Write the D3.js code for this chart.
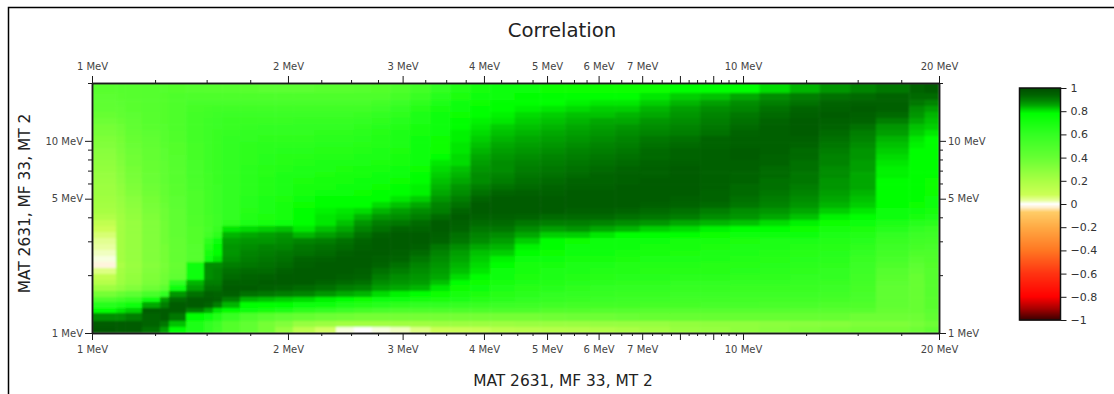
<!DOCTYPE html>
<html><head><meta charset="utf-8">
<script src="https://cdn.jsdelivr.net/npm/d3@7"></script>
<style>html,body{margin:0;padding:0;background:#fff}svg{display:block}text{font-family:"DejaVu Sans",sans-serif}</style>
</head><body><div id="c"></div>
<script>
const xEdges=[1,1.089,1.124,1.193,1.272,1.313,1.395,1.486,1.534,1.584,1.688,1.799,1.911,2.036,2.2,2.37,2.525,2.69,2.87,3.08,3.31,3.55,3.81,4.09,4.46,4.88,5.33,5.82,6.36,6.94,7.72,8.59,9.55,10.6,11.8,13.1,14.6,16,18,19,20];
const yEdges=[20,17.74,16.3,15.2,14.13,13.15,12.23,11.39,10.6,9.86,9.18,8.54,7.95,7.4,6.88,6.41,5.96,5.55,5.165,4.805,4.472,4.162,3.873,3.604,3.354,3.122,2.905,2.703,2.515,2.341,2.179,2.028,1.887,1.777,1.654,1.539,1.45,1.349,1.271,1.155,1.075,1];
// correlation in percent, rows from the highest energy down, columns from the lowest energy up
const correlation=[
[45,46,46,47,47,48,47,46,46,46,45,44,44,44,45,45,46,48,50,54,60,66,70,73,74,75,75,75,75,75,76,77,78,81,84,87,89,91,94,96],
[44,45,46,47,48,50,50,50,50,50,50,50,50,50,50,50,50,50,53,58,64,69,72,74,76,76,77,77,78,80,82,83,85,88,90,92,93,94,93,93],
[43,44,45,47,48,50,52,52,52,52,52,52,52,52,52,52,52,54,57,62,68,72,75,76,78,78,79,80,80,82,84,86,88,90,92,94,95,95,91,89],
[42,43,45,47,48,50,53,54,55,55,55,55,55,55,55,55,55,57,60,65,70,74,76,77,79,80,81,82,82,84,86,88,89,92,94,95,96,95,88,86],
[40,42,44,46,48,50,54,55,56,57,57,57,57,57,57,57,58,60,62,67,72,75,78,79,81,82,83,83,84,85,87,89,91,93,95,96,95,93,87,84],
[38,40,43,46,48,50,54,56,57,58,58,58,58,59,59,59,60,62,64,68,73,76,79,80,82,83,84,85,85,87,88,90,92,94,96,95,94,90,85,83],
[36,38,42,45,47,50,54,56,57,58,59,60,60,60,60,60,62,64,66,70,74,78,80,82,83,84,85,86,87,88,89,91,93,95,96,94,92,87,83,82],
[35,37,41,44,46,49,54,56,58,59,60,61,61,61,62,62,63,65,67,71,74,79,81,83,84,85,86,87,88,89,90,92,94,95,96,93,90,86,82,80],
[33,36,40,43,46,49,54,56,58,60,61,62,62,62,63,63,64,66,68,72,75,79,82,84,85,86,87,88,89,91,92,94,95,95,95,92,89,84,80,78],
[32,35,39,42,45,48,53,56,58,60,62,63,63,63,64,64,65,66,68,72,75,80,83,85,86,87,88,89,90,92,93,94,95,95,94,91,88,83,79,78],
[30,34,38,41,44,48,53,56,58,60,62,63,64,64,65,65,66,67,69,73,75,80,84,86,87,88,89,90,91,93,94,95,96,95,93,90,87,82,78,77],
[29,33,37,41,44,47,53,56,58,60,62,64,65,65,66,66,67,68,70,73,76,81,85,87,88,89,90,91,92,93,94,95,96,94,93,89,87,81,78,77],
[28,32,37,40,43,47,52,56,58,60,62,64,65,66,67,67,68,69,71,74,80,81,86,88,89,90,91,92,93,94,95,95,95,94,92,89,86,80,78,76],
[27,31,36,40,43,46,52,56,58,60,63,65,66,67,68,69,70,71,72,75,81,83,87,88,90,91,92,93,94,95,96,95,95,93,92,88,86,79,77,76],
[26,30,35,39,42,46,52,55,58,60,63,65,67,68,69,70,71,72,73,77,82,84,88,89,91,92,93,94,95,95,96,95,94,93,91,88,85,79,77,76],
[25,29,34,39,42,46,51,55,58,60,63,66,67,69,70,71,72,73,75,78,83,85,88,90,92,93,94,94,95,96,96,95,94,92,91,87,85,78,77,75],
[24,28,33,38,41,45,51,55,57,60,63,66,68,70,71,72,74,75,76,79,84,87,90,92,93,94,95,95,96,96,96,95,93,92,90,87,85,78,77,75],
[24,27,32,37,41,45,50,54,57,60,63,66,68,71,72,73,75,76,78,79,85,88,92,94,95,95,96,96,96,96,96,94,93,91,89,86,84,78,76,75],
[23,26,30,36,40,44,50,54,57,60,64,67,69,73,76,76,76,78,80,82,87,90,94,96,96,96,96,96,96,96,95,94,92,90,88,85,83,77,76,74],
[22,25,29,35,39,44,50,54,57,60,64,67,70,75,78,78,78,81,83,85,89,92,96,96,96,96,96,96,96,95,94,93,91,89,87,84,82,76,75,73],
[21,24,28,34,38,43,50,54,57,60,65,68,70,76,79,80,81,84,86,88,90,94,96,96,96,96,95,95,94,93,92,90,88,87,85,82,80,74,73,71],
[18,23,27,33,38,43,49,53,56,60,66,69,71,77,80,81,84,87,88,90,93,96,95,95,94,93,93,93,92,91,90,88,87,85,83,79,77,72,70,68],
[12,22,26,32,37,42,49,53,56,62,68,71,73,78,80,83,87,90,91,93,96,95,93,93,91,90,90,89,88,87,85,84,83,81,79,75,73,68,64,63],
[8,22,26,32,37,42,48,52,58,80,81,82,83,80,83,85,89,92,94,94,96,94,91,91,88,86,87,85,84,82,81,79,78,77,75,71,69,64,60,58],
[6,22,26,32,37,42,48,54,62,84,85,86,87,84,86,88,92,95,96,96,95,92,89,88,85,82,82,80,78,77,76,75,74,73,72,68,66,60,57,56],
[4,22,26,32,37,41,48,62,72,86,87,87,88,89,90,92,94,96,96,96,94,91,88,86,82,78,75,74,73,72,71,70,69,68,67,66,64,58,55,54],
[3,22,26,32,36,41,47,66,76,87,88,89,89,91,92,93,95,96,96,95,91,88,85,84,79,76,74,73,72,71,70,69,68,67,66,65,62,56,53,52],
[2,22,26,32,36,41,47,70,78,87,89,90,91,92,93,95,96,96,95,93,89,86,83,82,76,75,73,72,71,70,69,68,67,66,65,64,60,54,50,50],
[1,22,26,32,36,41,47,73,80,88,90,91,92,94,95,96,96,95,94,91,88,85,82,79,74,72,71,70,69,68,67,67,66,65,64,63,58,52,47,49],
[-2,20,25,31,35,40,72,88,88,90,91,92,93,95,96,96,96,94,92,89,87,84,81,76,71,70,68,67,66,66,66,65,65,64,63,62,57,50,44,48],
[5,22,26,32,36,41,72,88,89,92,93,93,95,96,96,96,95,92,90,88,86,83,80,74,70,68,67,66,66,65,65,65,64,63,62,61,56,47,42,47],
[12,23,27,33,37,42,74,88,89,93,94,95,96,96,96,95,94,90,88,87,85,81,78,72,69,67,66,65,64,64,63,63,62,62,61,60,55,45,40,47],
[16,24,28,34,38,60,84,90,90,95,95,96,96,96,94,93,92,88,87,86,83,78,75,70,67,66,64,63,62,62,61,61,60,60,59,58,54,44,40,46],
[24,28,32,38,44,72,86,92,92,96,96,95,94,93,92,90,89,86,85,84,80,75,72,67,65,64,62,61,60,60,59,59,58,58,58,57,53,43,40,46],
[36,40,44,52,60,87,92,95,94,95,92,91,90,89,87,85,84,81,79,78,75,71,69,65,63,61,60,59,58,58,57,57,56,56,56,55,52,43,40,46],
[50,54,58,72,86,93,96,96,95,90,84,83,82,81,79,77,75,73,72,71,69,67,65,63,61,59,58,57,56,56,55,55,54,54,54,53,51,43,40,45],
[64,68,72,85,90,96,96,94,90,84,78,77,76,74,72,68,66,64,62,60,60,59,58,57,56,55,54,54,54,53,53,52,52,51,51,50,49,42,40,45],
[78,80,82,96,96,96,90,85,80,77,72,70,67,62,59,56,53,51,50,50,50,50,50,50,50,48,48,47,47,46,46,46,46,46,45,45,45,40,40,44],
[88,88,90,94,96,91,78,72,66,58,50,45,42,40,38,37,36,36,36,36,36,36,36,36,36,37,38,38,39,40,40,40,40,40,40,40,38,38,38,42],
[96,96,96,94,91,83,68,60,56,48,42,36,32,26,24,22,22,22,23,23,24,24,24,24,25,25,25,26,26,26,27,28,28,29,30,31,33,33,35,38],
[97,96,96,92,86,76,68,60,55,48,42,36,26,14,7,1,0,1,2,5,8,9,10,14,15,16,17,18,20,22,25,26,28,30,32,34,36,36,38,42]
];
const xLabelled=[1,2,3,4,5,6,7,10,20];
const xLong=[1,2,3,4,5,6,7,8,9,10,20];
const xShort=[1.25,1.5,1.75,2.25,2.5,2.75,3.25,3.5,3.75,4.25,4.5,4.75,5.25,5.5,5.75,6.25,6.5,6.75,7.25,7.5,7.75,8.25,8.5,8.75,9.25,9.5,9.75,12.5,15,17.5];
const yLabelled=[1,5,10];
const yShort=[2,3,4,6,7,8,9,20];
const barTicks=[1,0.8,0.6,0.4,0.2,0,-0.2,-0.4,-0.6,-0.8,-1];
const stopValues=[-1,-0.9,-0.8,-0.6,-0.4,-0.2,-0.07,-0.03,0,0.03,0.08,0.2,0.4,0.6,0.78,0.81,0.85,0.89,0.94,1];
const stopColors=["#3a0000","#a80000","#ff0000","#ff3311","#ff7722","#ffaa44","#ffcc66","#ffeecc","#ffffff","#e8ffa0","#ccff55","#aaff44","#66ff33","#33ff22","#00ff00","#00dc00","#00a800","#008400","#006400","#004c00"];

const W=1114,H=394,L=92,R=939,T=83,B=333;
const x=d3.scaleLog().domain([1,20]).range([L,R]);
const y=d3.scaleLog().domain([1,20]).range([B,T]);
const color=d3.scaleLinear().domain(stopValues).range(stopColors);
const svg=d3.select("#c").append("svg").attr("width",W).attr("height",H);
const ink="#1a1a1a";

svg.append("path").attr("d",d3.line()([[W,7.5],[8.5,7.5],[8.5,H]])).attr("fill","none").attr("stroke","#000").attr("stroke-width",1.5);

const defs=svg.append("defs");
defs.append("clipPath").attr("id","pc").append("rect").attr("x",L).attr("y",T).attr("width",R-L).attr("height",B-T);
const f=defs.append("filter").attr("id","soft").attr("x",0).attr("y",0).attr("width",1).attr("height",1);
f.append("feGaussianBlur").attr("stdDeviation",1.3).attr("edgeMode","duplicate");

const cells=correlation.flatMap((row,i)=>row.map((v,j)=>({v:v/100,i,j})));
svg.append("g").attr("clip-path","url(#pc)").append("g").attr("filter","url(#soft)")
  .selectAll("rect").data(cells).join("rect")
  .attr("x",d=>x(xEdges[d.j])).attr("y",d=>y(yEdges[d.i]))
  .attr("width",d=>x(xEdges[d.j+1])-x(xEdges[d.j])+0.5)
  .attr("height",d=>y(yEdges[d.i+1])-y(yEdges[d.i])+0.5)
  .attr("fill",d=>color(d.v));

function style(g){g.selectAll("path.domain").attr("stroke",ink).attr("stroke-width",1.5);
  g.selectAll("line").attr("stroke",ink);
  g.selectAll("text").attr("fill","#444").style("font-family",'"DejaVu Sans",sans-serif').style("font-size","10px");}
const fmt=d=>d+" MeV";
function xAxis(mk,yy,pad){
  const a=svg.append("g").attr("transform",`translate(0,${yy})`);
  a.call(mk(x).tickValues(xShort).tickSize(3).tickSizeOuter(0).tickFormat(""));style(a);
  const b=svg.append("g").attr("transform",`translate(0,${yy})`);
  b.call(mk(x).tickValues(xLong).tickSize(7).tickSizeOuter(0).tickPadding(pad).tickFormat(d=>xLabelled.includes(d)?fmt(d):""));style(b);
}
xAxis(d3.axisTop,T,6);xAxis(d3.axisBottom,B,6);
function yAxis(mk,xx){
  const a=svg.append("g").attr("transform",`translate(${xx},0)`);
  a.call(mk(y).tickValues(yShort).tickSize(4).tickSizeOuter(0).tickFormat(""));style(a);
  const b=svg.append("g").attr("transform",`translate(${xx},0)`);
  b.call(mk(y).tickValues(yLabelled).tickSize(7).tickSizeOuter(0).tickPadding(2).tickFormat(fmt));style(b);
}
yAxis(d3.axisLeft,L);yAxis(d3.axisRight,R);

svg.append("text").attr("x",562).attr("y",37).attr("text-anchor","middle").attr("font-size",19.7).attr("fill","#222").text("Correlation");
svg.append("text").attr("x",563).attr("y",386).attr("text-anchor","middle").attr("font-size",15.4).attr("fill","#222").text("MAT 2631, MF 33, MT 2");
svg.append("text").attr("transform","translate(30,203.5) rotate(-90)").attr("text-anchor","middle").attr("font-size",15.4).attr("fill","#222").text("MAT 2631, MF 33, MT 2");

// colour bar
const barY=d3.scaleLinear().domain([1,-1]).range([88,320]);
const barX=[1019.5,1060.5];
const steps=d3.range(232).map(i=>1-i*2/232);
svg.append("g").selectAll("rect").data(steps).join("rect")
  .attr("x",barX[0]).attr("width",barX[1]-barX[0]).attr("y",d=>barY(d)).attr("height",1.5).attr("fill",d=>color(d-1/232));
svg.append("rect").attr("x",barX[0]).attr("y",88).attr("width",barX[1]-barX[0]).attr("height",232).attr("fill","none").attr("stroke","#111").attr("stroke-width",1.5);
const barAxis=svg.append("g").attr("transform",`translate(${barX[1]},0)`)
  .call(d3.axisRight(barY).tickValues(barTicks).tickSize(6).tickSizeOuter(0).tickPadding(4).tickFormat(d=>d<0?"\u2212"+Math.abs(d):d));
barAxis.selectAll("path.domain").remove();
barAxis.selectAll("line").attr("stroke",ink);
barAxis.selectAll("text").attr("fill","#333").style("font-family",'"DejaVu Sans",sans-serif').style("font-size","11px");
</script></body></html>
